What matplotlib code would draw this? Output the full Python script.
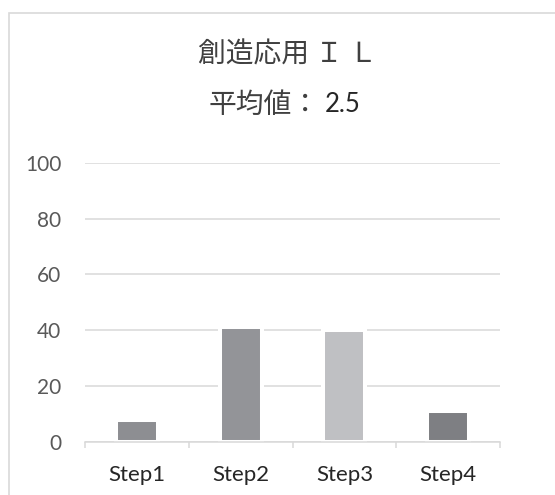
import matplotlib.pyplot as plt
from matplotlib.patches import Rectangle

plt.rcParams['font.family'] = ['Noto Sans CJK JP', 'DejaVu Sans']

steps = ["Step1", "Step2", "Step3", "Step4"]
percent = [7.8, 41.2, 40.1, 11.1]
bar_colors = ["#8d8e92", "#939498", "#bfc0c3", "#7e7f83"]
yticks = [0, 20, 40, 60, 80, 100]
title_line1 = "創造応用 Ｉ Ｌ"
title_line2 = "平均値："
mean_text = "2.5"

fig = plt.figure(figsize=(5.55, 4.95), dpi=100)

# outer chart frame (continues past the bottom/right of the crop)
fig.patches.append(Rectangle((8.5 / 555, -0.5), 2.0, 1.5 - 12.5 / 495,
                             transform=fig.transFigure, fill=False,
                             edgecolor="#d9d9d9", linewidth=1.2))

ax = fig.add_axes([85 / 555, 1 - 441.7 / 495, 415 / 555, (441.7 - 163) / 495])

x = range(len(steps))
ax.bar(x, percent, width=0.405, color=bar_colors, edgecolor="white",
       linewidth=2.9, zorder=3)

ax.set_xlim(-0.5, 3.5)
ax.set_ylim(0, 100)
ax.set_yticks(yticks)
ax.set_xticks(list(x))
ax.set_xticklabels(steps, family="Lato", fontsize=16, color="#262626")
ax.set_yticklabels([str(v) for v in yticks], family="Lato", fontsize=15,
                   color="#595959")
ax.set_xticks([-0.5, 0.5, 1.5, 2.5, 3.5], minor=True)
ax.tick_params(axis="x", which="major", length=0, pad=17)
ax.tick_params(axis="x", which="minor", length=4, color="#d9d9d9", width=1.1)
ax.tick_params(axis="y", length=0, pad=17)

ax.grid(axis="y", color="#d9d9d9", linewidth=1.1, zorder=0)
ax.set_axisbelow(True)
for side in ["top", "right", "left"]:
    ax.spines[side].set_visible(False)
ax.spines["bottom"].set_color("#d9d9d9")
ax.spines["bottom"].set_linewidth(1.1)
ax.spines["bottom"].set_zorder(5)

fig.text(198 / 555, 1 - 54 / 495, title_line1, ha="left", va="center",
         fontsize=20, color="#404040")
fig.text(209 / 555, 1 - 104.5 / 495, title_line2, ha="left", va="center",
         fontsize=20, color="#404040")
fig.text(325 / 555, 1 - 104.5 / 495, mean_text, ha="left", va="center",
         fontsize=18.5, family="Lato", color="#262626")

fig.savefig("out.png", dpi=100)
